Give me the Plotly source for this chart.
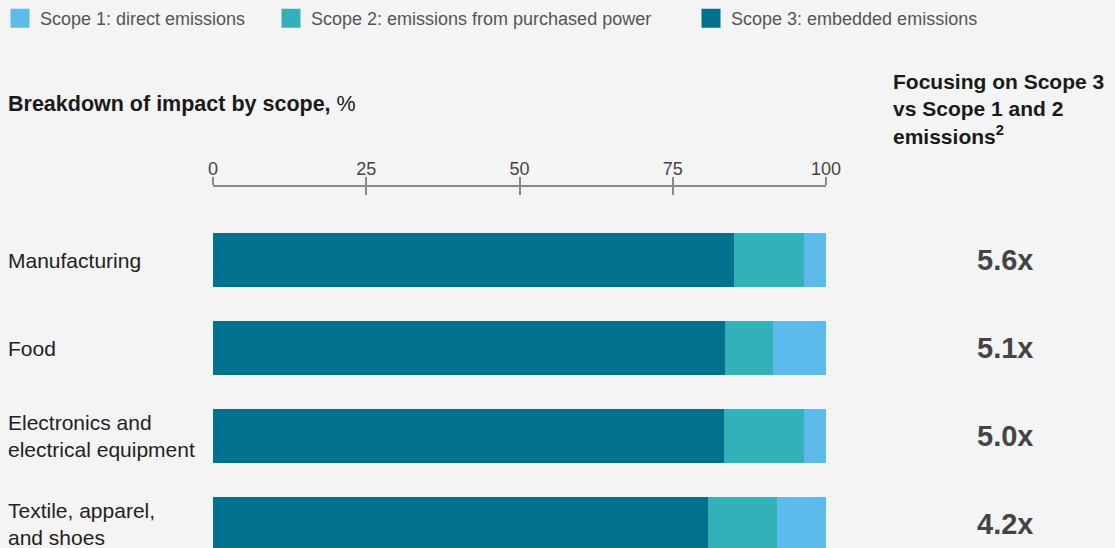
import plotly.graph_objects as go

# ---- data ----
categories = ["Manufacturing", "Food", "Electronics and<br>electrical equipment", "Textile, apparel,<br>and shoes"]
scope3 = [85.0, 83.6, 83.3, 80.7]
scope2 = [11.4, 7.7, 13.1, 11.3]
scope1 = [3.6, 8.7, 3.6, 8.0]
ratio_labels = ["5.6x", "5.1x", "5.0x", "4.2x"]
tick_vals = [0, 25, 50, 75, 100]
series_names = ["Scope 1: direct emissions", "Scope 2: emissions from purchased power", "Scope 3: embedded emissions"]

# ---- styles ----
W, H = 1115, 548
ML, MR, MT, MB = 213, 289, 187, 0
PW, PH = W - ML - MR, H - MT - MB
BG = "#f4f4f4"
C1, C2, C3 = "#5cbbeb", "#32b1b9", "#00718f"
FONT = "Liberation Sans, Arial, sans-serif"
LEGEND_X_PX = [-2, 271, 691]


def px_x(px):
    return (px - ML) / PW


def px_y(py):
    return (H - MB - py) / PH


fig = go.Figure()

# stacked bars
fig.add_trace(go.Bar(y=categories, x=scope3, orientation="h", marker=dict(color=C3, line=dict(width=0)),
                     name=series_names[2], showlegend=False))
fig.add_trace(go.Bar(y=categories, x=scope2, orientation="h", marker=dict(color=C2, line=dict(width=0)),
                     name=series_names[1], showlegend=False))
fig.add_trace(go.Bar(y=categories, x=scope1, orientation="h", marker=dict(color=C1, line=dict(width=0)),
                     name=series_names[0], showlegend=False))

# legend entries (square markers), one legend per entry
legend_ids = ["legend", "legend2", "legend3"]
for nm, c, lid in zip(series_names, [C1, C2, C3], legend_ids):
    fig.add_trace(go.Scatter(x=[None], y=[None], mode="markers", name=nm, xaxis="x2", legend=lid,
                             marker=dict(symbol="square", size=16, color=c, line=dict(color=c, width=3))))

legend_common = dict(orientation="h", xref="container", yref="container", y=1,
                     xanchor="left", yanchor="top", itemsizing="trace",
                     font=dict(size=18, color="#555555", family=FONT), bgcolor="rgba(0,0,0,0)")

fig.update_layout(
    width=W, height=H,
    margin=dict(l=ML, r=MR, t=MT, b=MB, pad=0),
    paper_bgcolor=BG, plot_bgcolor=BG,
    barmode="stack", bargap=0.386,
    font=dict(family=FONT, color="#444444"),
    showlegend=True,
    legend=dict(x=LEGEND_X_PX[0] / W, **legend_common),
    legend2=dict(x=LEGEND_X_PX[1] / W, **legend_common),
    legend3=dict(x=LEGEND_X_PX[2] / W, **legend_common),
    xaxis=dict(range=[0, 100], side="top", tickvals=tick_vals, ticks="outside", ticklen=8,
               tickwidth=1.5, tickcolor="#888888", showline=True, linecolor="#888888", linewidth=1.5,
               showgrid=False, zeroline=False, tickfont=dict(size=18, color="#444444"),
               ticklabelstandoff=-5, fixedrange=True),
    xaxis2=dict(range=[0, 100], side="top", overlaying="x", tickvals=tick_vals, ticks="inside",
                ticklen=8, tickwidth=1.5, tickcolor="#888888", showticklabels=False, showline=False,
                showgrid=False, zeroline=False),
    yaxis=dict(range=[3.27, -0.83], showticklabels=False, showgrid=False, zeroline=False,
               showline=False, ticks=""),
)

annotations = []
for cat, lab in zip(categories, ratio_labels):
    annotations.append(dict(x=px_x(6), xref="paper", y=cat, yref="y", text=cat, showarrow=False,
                            xanchor="left", yanchor="middle", align="left",
                            font=dict(size=21, color="#222222", family=FONT)))
    annotations.append(dict(x=px_x(1005), xref="paper", y=cat, yref="y", text="<b>" + lab + "</b>",
                            showarrow=False, xanchor="center", yanchor="middle",
                            font=dict(size=29, color="#444444", family=FONT)))

annotations.append(dict(x=px_x(6), xref="paper", y=px_y(104), yref="paper",
                        text="<b>Breakdown of impact by scope,</b> %", showarrow=False,
                        xanchor="left", yanchor="middle", font=dict(size=21.5, color="#1a1a1a", family=FONT)))
annotations.append(dict(x=px_x(891), xref="paper", y=px_y(68), yref="paper",
                        text="<b>Focusing on Scope 3<br>vs Scope 1 and 2<br>emissions<sup>2</sup></b>",
                        showarrow=False, xanchor="left", yanchor="top", align="left",
                        font=dict(size=21, color="#1a1a1a", family=FONT)))
fig.update_layout(annotations=annotations)

fig.write_html("out.html", config={"displayModeBar": False},
               post_script="document.body.style.margin='0';document.body.style.background='#f4f4f4';")
